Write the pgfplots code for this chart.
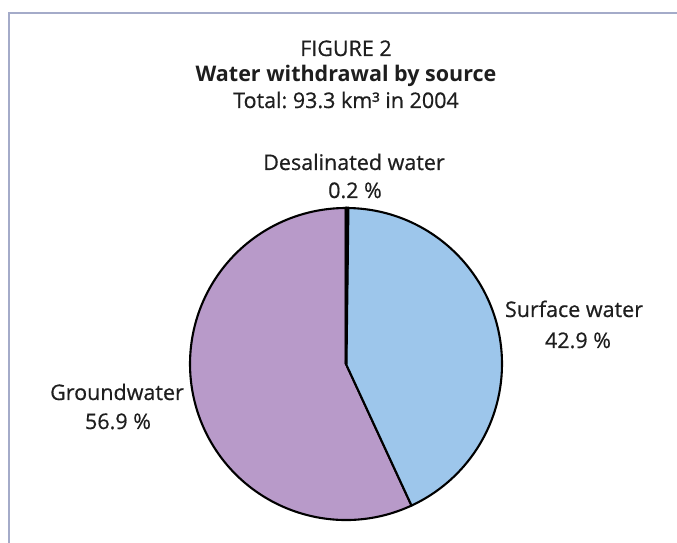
\documentclass[border=0pt]{standalone}
\usepackage{pgfplots}
\usepackage{pgfplotstable}
\pgfplotsset{compat=1.18}
\usepackage{fontspec}
\setmainfont{Open Sans}[FakeBold=0.6]
\newfontfamily\boldtitle{Open Sans Bold}
\frenchspacing
\definecolor{desal}{HTML}{9DC6EB}
\definecolor{surf}{HTML}{9DC6EB}
\definecolor{ground}{HTML}{B89AC9}
\definecolor{frame}{HTML}{A4ABC9}
\definecolor{txt}{HTML}{1E1E1E}
\pgfplotstableread{
value col lw
0.2 desal 3.0
42.9 surf 2.1
56.9 ground 2.1
}\piedata
\begin{document}
\begin{tikzpicture}
\begin{axis}[at={(0,0)},anchor=origin,
  scale only axis, width=677pt, height=543pt,
  xmin=0, xmax=677, ymin=0, ymax=543,
  hide axis, clip=false]
\def\cum{100}
\pgfplotsforeachungrouped \i in {2,1,0} {
  \pgfplotstablegetelem{\i}{value}\of\piedata \let\v=\pgfplotsretval
  \pgfplotstablegetelem{\i}{col}\of\piedata \let\c=\pgfplotsretval
  \pgfplotstablegetelem{\i}{lw}\of\piedata \let\w=\pgfplotsretval
  \pgfmathsetmacro{\a}{90-3.6*(\cum-\v)}
  \pgfmathsetmacro{\b}{90-3.6*\cum}
  \pgfmathsetmacro{\xa}{346+156*cos(\a)}
  \pgfmathsetmacro{\ya}{179+156*sin(\a)}
  \edef\temp{\noexpand\filldraw[fill=\c, draw=black, line width=\w pt, line join=round]
    (axis cs:346,179) -- (axis cs:\xa,\ya) arc[start angle=\a, end angle=\b, radius=156pt] -- cycle;}
  \temp
  \pgfmathsetmacro{\cum}{\cum-\v}
}
\draw[frame, line width=2pt] (axis cs:9,0) -- (axis cs:9,530) -- (axis cs:677,530);
\begin{scope}[every node/.style={text=txt, font=\fontsize{21.5}{25}\selectfont, anchor=base, inner sep=0pt}]
\node at (axis cs:346,487) {FIGURE 2};
\node at (axis cs:346,461) {{\boldtitle Water withdrawal by source}};
\node at (axis cs:346,435) {Total: 93.3 km³ in 2004};
\node at (axis cs:354,373) {Desalinated water};
\node at (axis cs:355,345) {0.2 \%};
\node at (axis cs:574,226) {Surface water};
\node at (axis cs:578,195) {42.9 \%};
\node at (axis cs:117,143) {Groundwater};
\node at (axis cs:118,114) {56.9 \%};
\end{scope}
\end{axis}
\pgfresetboundingbox
\path (0,0) rectangle (677pt,543pt);
\end{tikzpicture}
\end{document}
